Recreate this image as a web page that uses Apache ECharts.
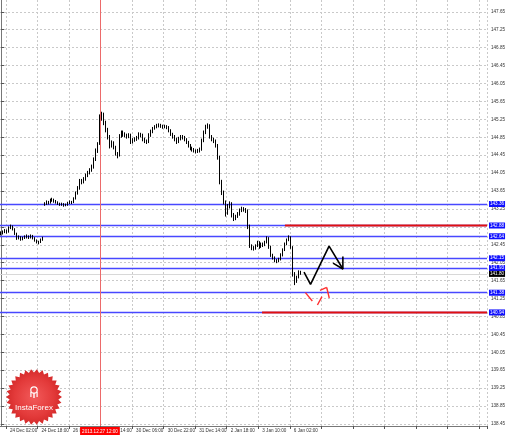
<!DOCTYPE html>
<html><head><meta charset="utf-8">
<script src="https://cdn.jsdelivr.net/npm/echarts@6/dist/echarts.min.js"></script>
<style>html,body{margin:0;padding:0;background:#fff}#c{width:510px;height:437px}</style>
</head><body><div id="c"></div>
<script>
// ---- data (USD/JPY-like H1 bars) ----
const barLows = [142.66,142.68,142.71,142.70,142.72,142.80,142.77,142.67,142.56,142.57,142.54,142.55,142.58,142.59,142.58,142.59,142.57,142.52,142.48,142.46,142.49,142.54,
143.32,143.34,143.35,143.37,143.41,143.39,143.37,143.34,143.32,143.32,143.30,143.31,143.32,143.36,143.36,143.38,143.46,143.57,143.68,143.80,143.82,143.88,143.96,144.02,144.08,144.15,144.32,144.50,
144.68,145.22,145.12,144.96,144.80,144.60,144.62,144.58,144.44,144.38,144.42,144.84,144.86,144.85,144.82,144.83,144.70,144.71,144.75,144.77,144.80,144.85,144.76,144.72,144.70,
144.72,144.86,144.94,145.02,145.05,145.07,145.06,145.04,145.05,145.03,144.96,144.88,144.82,144.76,144.70,144.72,144.78,144.80,144.76,144.70,144.62,144.56,144.53,144.51,144.49,
144.50,144.51,144.55,144.74,144.92,145.04,144.82,144.76,144.72,144.62,144.35,143.80,143.56,143.35,143.08,143.12,143.26,143.06,142.98,143.00,143.05,143.10,143.18,143.19,143.16,
142.80,142.38,142.33,142.32,142.34,142.40,142.36,142.38,142.40,142.42,142.48,142.36,142.18,142.12,142.06,142.04,142.06,142.10,142.19,142.31,142.44,142.53,142.36,141.74,141.55,
141.60,141.70,141.78];
const barHighs = [142.75,142.77,142.80,142.79,142.86,142.90,142.88,142.82,142.72,142.66,142.64,142.63,142.66,142.68,142.66,142.68,142.67,142.62,142.57,142.54,142.59,142.63,
143.40,143.44,143.43,143.48,143.50,143.48,143.45,143.42,143.39,143.39,143.38,143.37,143.41,143.44,143.43,143.51,143.64,143.76,143.92,143.92,143.96,144.04,144.10,144.16,144.24,144.40,144.60,144.74,
145.36,145.42,145.40,145.22,145.06,144.90,144.78,144.76,144.66,144.52,144.92,145.00,145.00,144.96,144.93,144.94,144.93,144.83,144.85,144.88,144.96,144.95,144.93,144.84,144.80,
144.94,145.02,145.08,145.12,145.15,145.16,145.15,145.13,145.13,145.12,145.10,145.03,144.95,144.90,144.84,144.86,144.90,144.90,144.88,144.83,144.77,144.70,144.64,144.61,144.58,
144.59,144.62,144.82,145.00,145.13,145.16,145.14,144.90,144.84,144.80,144.70,144.44,143.90,143.66,143.44,143.36,143.42,143.40,143.16,143.12,143.18,143.26,143.30,143.29,143.27,
143.24,142.90,142.46,142.42,142.46,142.54,142.53,142.50,142.50,142.54,142.64,142.62,142.43,142.25,142.19,142.13,142.16,142.26,142.37,142.50,142.59,142.66,142.64,142.42,141.84,
141.76,141.88,141.87];
const lastClose = 141.80;
const categoryCount = 247;
const timeTicks = [[3,'24 Dec 02:00'],[19,'24 Dec 18:00'],[35,'26 Dec 22:00'],[51,'27 Dec 14:00'],[67,'30 Dec 06:00'],
  [83,'30 Dec 22:00'],[99,'31 Dec 14:00'],[115,'2 Jan 18:00'],[131,'3 Jan 10:00'],[147,'6 Jan 02:00']];
const priceTicks = [147.65,147.25,146.85,146.45,146.05,145.65,145.25,144.85,144.45,144.05,143.65,143.25,142.85,142.45,142.05,141.65,141.25,140.85,140.45,140.05,139.65,139.25,138.85,138.45];
const blueLevels = [143.36,142.88,142.64,142.15,141.93,141.38,140.94];
const redLevels = [[144.0,142.88],[132.4,140.94]];          // [start bar, price]
const crosshairBar = 50.2;
const crosshairText = '2013.12.27 12:00';
const forecastPath = [[153.7,141.84],[157.0,141.565],[166.4,142.42],[173.4,141.91]];
const arrowHead = [[168.4,142.04],[173.4,141.91],[173.4,142.19]];
const triangleDashes = [
  [[154.4,141.381],[157.9,141.196]],
  [[160.5,141.106],[162.8,141.291]],
  [[161.8,141.434],[165.2,141.497]],
  [[165.2,141.497],[166.5,141.263]]
];
// ---- build ----
const cats = new Array(categoryCount).fill('');
timeTicks.forEach(([i, t]) => cats[i] = t);
const isTick = (i) => ((i - 3) % 16 === 0);
const ohlc = barLows.map((l, i) => [l, barHighs[i], l, barHighs[i]]);
const FONT = 'Liberation Sans';
const lastIdx = categoryCount - 0.5;

const levelLines = blueLevels.map(v => ({
  yAxis: v,
  lineStyle: {color: '#4848ff', width: 1.3, type: 'solid'},
  label: {show: true, position: 'end', distance: 2, formatter: v.toFixed(2), color: '#fff',
    backgroundColor: '#1010ff', fontSize: 4.6, fontFamily: FONT, padding: [1, 1, 0, 1]}
}));
levelLines.push({
  yAxis: lastClose,
  lineStyle: {color: '#d8d8d8', width: 1, type: 'solid'},
  label: {show: true, position: 'end', distance: 2, formatter: lastClose.toFixed(2), color: '#fff',
    backgroundColor: '#000', fontSize: 4.6, fontFamily: FONT, padding: [1, 1, 0, 1]}
});

const series = [
  {
    type: 'candlestick', data: ohlc, barWidth: 1.2, z: 5,
    itemStyle: {color: '#000', color0: '#000', borderColor: '#000', borderColor0: '#000', borderWidth: 1},
    markLine: {symbol: 'none', silent: true, animation: false, data: levelLines, z: 3}
  },
  {
    type: 'line', xAxisIndex: 1, data: [], silent: true,
    markLine: {symbol: 'none', silent: true, animation: false,
      data: [{xAxis: crosshairBar, lineStyle: {color: '#ec6a6a', width: 1, type: 'solid'},
        label: {show: true, position: 'start', distance: 1, formatter: crosshairText, color: '#fff',
          backgroundColor: '#ff0000', fontSize: 4.6, fontFamily: FONT, padding: [2, 2, 1, 2]}}]}
  }
];
redLevels.forEach(([s, p]) => series.push({
  type: 'line', xAxisIndex: 1, data: [[s, p], [lastIdx, p]], symbol: 'none', z: 6, silent: true,
  lineStyle: {color: '#e01010', width: 2}
}));
series.push({type: 'line', xAxisIndex: 1, data: forecastPath, symbol: 'none', z: 7, silent: true,
  lineStyle: {color: '#000', width: 1.6}});
series.push({type: 'line', xAxisIndex: 1, data: arrowHead, symbol: 'none', z: 7, silent: true,
  lineStyle: {color: '#000', width: 1.6}});
series.push({type: 'lines', coordinateSystem: 'cartesian2d', xAxisIndex: 1, z: 7, silent: true,
  data: triangleDashes.map(c => ({coords: c})), lineStyle: {color: '#ff3030', width: 1.4, opacity: 1}});

// logo star
const starPts = [];
const cx = 34, cy = 397, spikes = 30;
for (let k = 0; k < spikes * 2; k++) {
  const r = k % 2 === 0 ? 28 : 24.5;
  const a = Math.PI * k / spikes;
  starPts.push([cx + r * Math.cos(a), cy + r * Math.sin(a)]);
}

const option = {
  animation: false,
  backgroundColor: '#fff',
  grid: {left: 0, right: 23, top: 0, bottom: 11, containLabel: false},
  xAxis: [
    {type: 'category', data: cats, boundaryGap: true,
     axisLine: {show: true, lineStyle: {color: '#777', width: 1}},
     axisTick: {show: true, length: 3, interval: (i) => isTick(i), lineStyle: {color: '#555'}},
     axisLabel: {show: true, interval: (i) => isTick(i), align: 'left', margin: 2, padding: [0, 0, 0, 3],
       fontSize: 4.6, fontFamily: FONT, color: '#333'},
     splitLine: {show: true, interval: (i) => isTick(i), lineStyle: {color: '#c9c9c9', type: [2, 2], width: 1}}},
    {type: 'value', min: -0.5, max: categoryCount - 0.5, show: false}
  ],
  yAxis: {
    type: 'value', position: 'right', min: 138.405, max: 147.914, scale: true,
    axisLine: {show: true, lineStyle: {color: '#777', width: 1}},
    axisTick: {show: true, length: 3, customValues: priceTicks, lineStyle: {color: '#555'}},
    axisLabel: {show: true, customValues: priceTicks, margin: 4, fontSize: 4.6, fontFamily: FONT, color: '#333',
      formatter: (v) => v.toFixed(2)},
    splitLine: {show: true, lineStyle: {color: '#c9c9c9', type: [2, 2], width: 1}}
  },
  series: series,
  graphic: [
    {type: 'polygon', z: 100, shape: {points: starPts},
     style: {fill: {type: 'radial', x: 0.5, y: 0.5, r: 0.5,
       colorStops: [{offset: 0, color: '#f25a5a'}, {offset: 0.7, color: '#e33a3a'}, {offset: 1, color: '#d42a2a'}]}}},
    {type: 'circle', z: 101, shape: {cx: 34, cy: 390, r: 3.2}, style: {fill: 'none', stroke: '#fff', lineWidth: 1.2}},
    {type: 'rect', z: 101, shape: {x: 33.3, y: 393, width: 1.4, height: 5}, style: {fill: '#fff'}},
    {type: 'rect', z: 101, shape: {x: 30.3, y: 392, width: 1.2, height: 5}, style: {fill: '#fff'}},
    {type: 'rect', z: 101, shape: {x: 36.5, y: 392, width: 1.2, height: 5}, style: {fill: '#fff'}},
    {type: 'text', z: 101, style: {x: 34, y: 408, text: 'InstaForex', fill: '#fff', font: '8px "Liberation Sans"',
      align: 'center', verticalAlign: 'middle'}}
  ]
};
const chart = echarts.init(document.getElementById('c'), null, {renderer: 'canvas'});
chart.setOption(option);
</script></body></html>
